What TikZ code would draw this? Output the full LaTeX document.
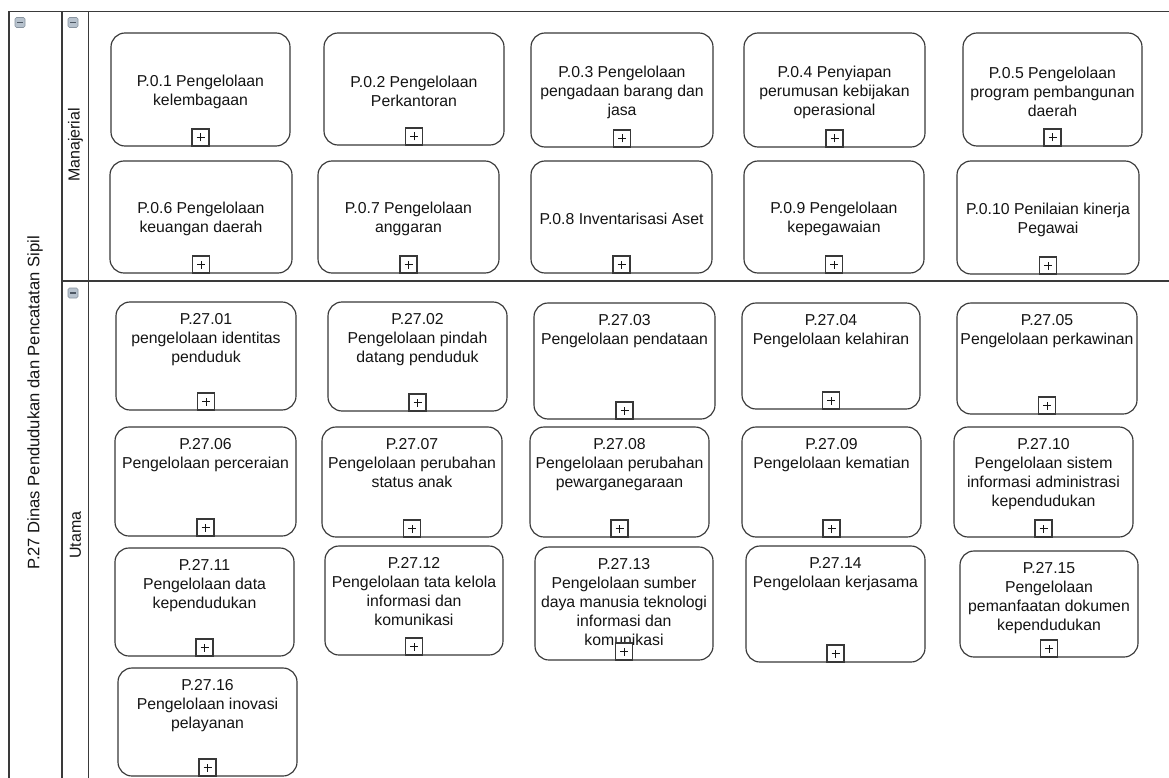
\documentclass[tikz,border=0pt]{standalone}
\usepackage{fontspec}
\setmainfont{Liberation Sans}
\definecolor{boxline}{HTML}{383838}
\definecolor{poolline}{HTML}{3A3A3A}
\definecolor{txt}{HTML}{141414}
\definecolor{iconfill}{HTML}{B7C2CD}
\definecolor{iconline}{HTML}{8994A0}
\definecolor{icondash}{HTML}{4E5864}
\tikzset{
  poolrule/.style={draw=poolline, line width=1.7pt},
  taskbox/.style={draw=boxline, line width=1.15pt, rounded corners=14pt, inner sep=0pt, outer sep=0pt},
  tasktext/.style={align=center, inner sep=0pt, outer sep=0pt, text=txt, font=\fontsize{15.8}{19}\selectfont},
  plusbox/.style={draw=boxline, fill=white, line width=1.15pt, minimum size=17pt, inner sep=0pt, outer sep=0pt, anchor=south,
    path picture={\draw[line width=0.9pt, draw=txt]
      ([xshift=-4pt]path picture bounding box.center) -- ([xshift=4pt]path picture bounding box.center)
      ([yshift=-4pt]path picture bounding box.center) -- ([yshift=4pt]path picture bounding box.center);}},
  minusicon/.style={draw=iconline, fill=iconfill, line width=0.6pt, rounded corners=1.5pt, minimum size=10pt, inner sep=0pt, outer sep=0pt,
    path picture={\draw[line width=1.3pt, draw=icondash]
      ([xshift=-2.8pt]path picture bounding box.center) -- ([xshift=2.8pt]path picture bounding box.center);}},
  lanelabel/.style={rotate=90, inner sep=0pt, text=txt, font=\fontsize{16}{19}\selectfont},
}
\newcommand\mtask[6]{%
  \node[taskbox, minimum width={#4-#2}, minimum height={#5-#3}] (#1) at ({(#2+#4)/2},{(#3+#5)/2}) {};
  \node[tasktext] (#1t) at ([yshift=-2pt]#1.center) {#6};
  \node[plusbox] (#1p) at (#1.south) {};
}
\newcommand\utask[6]{%
  \node[taskbox, minimum width={#4-#2}, minimum height={#5-#3}] (#1) at ({(#2+#4)/2},{(#3+#5)/2}) {};
  \node[tasktext, anchor=north] (#1t) at ([yshift=-11pt]#1.north) {#6};
  \node[plusbox] (#1p) at (#1.south) {};
}
\begin{document}
\begin{tikzpicture}[x=1pt,y=-1pt]
\useasboundingbox (0,0) rectangle (1169,778);
\fill[white] (0,0) rectangle (1169,778);
% pool and lanes
\draw[poolrule] (9,782) -- (9,11.5) -- (1172,11.5);
\draw[poolrule] (62,11.5) -- (62,782);
\draw[poolrule] (88.5,11.5) -- (88.5,782);
\draw[poolrule] (62,281) -- (1172,281);
% collapse icons
\node[minusicon] (poolicon) at (20,22.5) {};
\node[minusicon] (lane1icon) at (73,22.5) {};
\node[minusicon] (lane2icon) at (73,293) {};
% labels
\node[lanelabel, font=\fontsize{16.6}{19}\selectfont] (poollabel) at (35,403) {P.27 Dinas Pendudukan dan Pencatatan Sipil};
\node[lanelabel] (lane1label) at (75.5,145) {Manajerial};
\node[lanelabel] (lane2label) at (75.5,535) {Utama};
% Manajerial
\mtask{m1}{111}{33}{290}{146}{P.0.1 Pengelolaan\\kelembagaan}
\mtask{m2}{324}{33}{504}{145}{P.0.2 Pengelolaan\\Perkantoran}
\mtask{m3}{531}{33}{713}{147}{P.0.3 Pengelolaan\\pengadaan barang dan\\jasa}
\mtask{m4}{744}{33}{925}{147}{P.0.4 Penyiapan\\perumusan kebijakan\\operasional}
\mtask{m5}{963}{33}{1142}{146}{P.0.5 Pengelolaan\\program pembangunan\\daerah}
\mtask{m6}{110}{161}{292}{273}{P.0.6 Pengelolaan\\keuangan daerah}
\mtask{m7}{318}{161}{499}{273}{P.0.7 Pengelolaan\\anggaran}
\mtask{m8}{531}{161}{712}{273}{P.0.8 Inventarisasi Aset}
\mtask{m9}{744}{161}{924}{273}{P.0.9 Pengelolaan\\kepegawaian}
\mtask{m10}{957}{161}{1139}{274}{P.0.10 Penilaian kinerja\\Pegawai}
% Utama
\utask{u1}{116}{302}{296}{410}{P.27.01\\pengelolaan identitas\\penduduk}
\utask{u2}{328}{302}{507}{411}{P.27.02\\Pengelolaan pindah\\datang penduduk}
\utask{u3}{534}{303}{715}{419}{P.27.03\\Pengelolaan pendataan}
\utask{u4}{742}{303}{920}{409}{P.27.04\\Pengelolaan kelahiran}
\utask{u5}{957}{303}{1137}{414}{P.27.05\\Pengelolaan perkawinan}
\utask{u6}{115}{427}{296}{536}{P.27.06\\Pengelolaan perceraian}
\utask{u7}{322}{427}{502}{537}{P.27.07\\Pengelolaan perubahan\\status anak}
\utask{u8}{530}{427}{709}{537}{P.27.08\\Pengelolaan perubahan\\pewarganegaraan}
\utask{u9}{742}{427}{921}{537}{P.27.09\\Pengelolaan kematian}
\utask{u10}{954}{427}{1133}{537}{P.27.10\\Pengelolaan sistem\\informasi administrasi\\kependudukan}
\utask{u11}{115}{548}{294}{656}{P.27.11\\Pengelolaan data\\kependudukan}
\utask{u12}{325}{546}{503}{655}{P.27.12\\Pengelolaan tata kelola\\informasi dan\\komunikasi}
\utask{u13}{535}{547}{713}{660}{P.27.13\\Pengelolaan sumber\\daya manusia teknologi\\informasi dan\\komunikasi}
\utask{u14}{746}{546}{925}{662}{P.27.14\\Pengelolaan kerjasama}
\utask{u15}{960}{551}{1138}{657}{P.27.15\\Pengelolaan\\pemanfaatan dokumen\\kependudukan}
\utask{u16}{118}{668}{297}{776}{P.27.16\\Pengelolaan inovasi\\pelayanan}
\end{tikzpicture}
\end{document}
